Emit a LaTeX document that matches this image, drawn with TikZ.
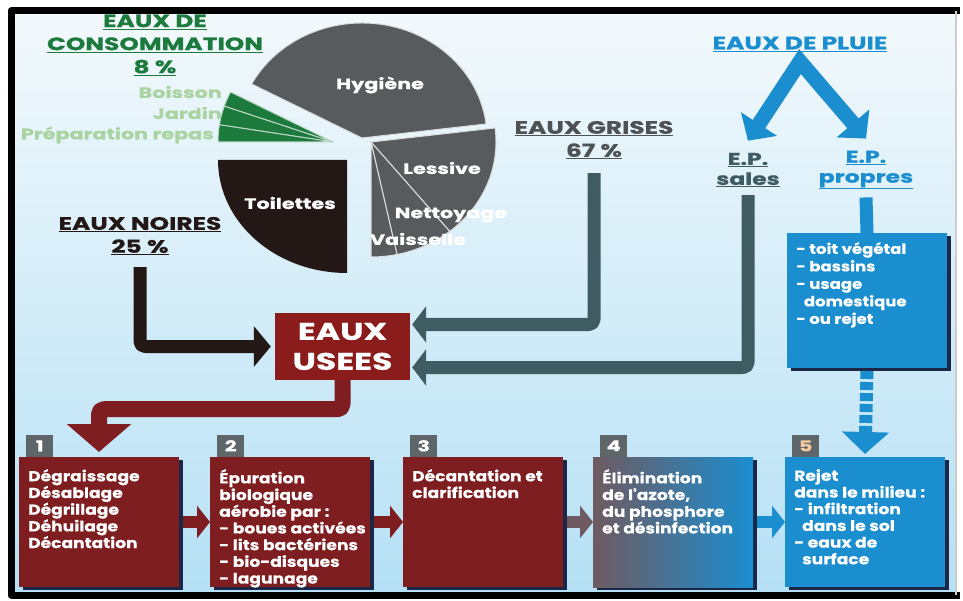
\documentclass[tikz,border=0pt]{standalone}
\usepackage{fontspec}
\setmainfont{Poppins}
\newfontfamily\grosfont{Poppins}[FakeStretch=1.38,FakeBold=0.6]
\newfontfamily\boitefont{Poppins}[FakeStretch=1.18,FakeBold=0.3]
\usetikzlibrary{arrows.meta, positioning, shadows}
\definecolor{rouge}{HTML}{7E1E20}
\definecolor{rougeU}{HTML}{8A1C1C}
\definecolor{bleu}{HTML}{1B8ED0}
\definecolor{gris}{HTML}{575B5D}
\definecolor{grisF}{HTML}{3F5C63}
\definecolor{noir}{HTML}{231815}
\definecolor{vert}{HTML}{1B7A3C}
\definecolor{vertC}{HTML}{A9D3A1}
\definecolor{ombre}{HTML}{1C2646}
\definecolor{fondH}{HTML}{F3F9FC}
\definecolor{fondB}{HTML}{B5E0F5}
\definecolor{numgris}{HTML}{5E6669}
\definecolor{mauve}{HTML}{6E5A60}
\definecolor{peche}{HTML}{F5C9A0}
\tikzset{titre/.style={font=\grosfont\bfseries\fontsize{18}{23}\selectfont,align=center,inner sep=0pt}}
\tikzset{part/.style={font=\grosfont\bfseries\fontsize{15}{18}\selectfont,text=white,inner sep=0pt}}
\tikzset{conso/.style={font=\grosfont\bfseries\fontsize{15}{18}\selectfont,text=vertC,inner sep=0pt,anchor=east}}
\tikzset{stage/.style={minimum width=160pt,minimum height=130pt,inner sep=0pt,outer sep=0pt,general shadow={fill=ombre,shadow xshift=4pt,shadow yshift=-3pt}}}
\tikzset{stage text/.style={anchor=north west,xshift=9pt,yshift=-12pt,align=left,text=white,inner sep=0pt,font=\boitefont\bfseries\fontsize{14.5}{16.7}\selectfont}}
\tikzset{num/.style={fill=numgris,text=white,minimum width=27pt,minimum height=22pt,inner sep=0pt,font=\grosfont\bfseries\fontsize{15}{15}\selectfont}}
\tikzset{tuyau/.style={line width=13pt,rounded corners=5pt}}

\begin{document}
\begin{tikzpicture}[x=1pt,y=-1pt,line join=round]
    \tikzstyle{etape} = [line width=12pt, -{Triangle[width=32pt,length=13pt]}]
    %\draw[help lines] (0,0) grid (963,601);
    \useasboundingbox (0,0) rectangle (963,601);
    \fill[white] (0,0) rectangle (963,601);
    \shade[top color=fondH, bottom color=fondB] (11,11) rectangle (956,595);

    % camembert
    \filldraw[fill=gris, draw=white!80!gris, line width=1pt] (362,138) -- ++(7:125pt and 115pt) arc[start angle=7, end angle=152, x radius=125pt, y radius=115pt] -- cycle;
    \filldraw[fill=gris, draw=white!80!gris, line width=1pt] (371,142) -- ++(7:125pt and 115pt) arc[start angle=7, end angle=-51, x radius=125pt, y radius=115pt] -- cycle;
    \filldraw[fill=gris, draw=white!80!gris, line width=1pt] (371,142) -- ++(-51:125pt and 115pt) arc[start angle=-51, end angle=-78, x radius=125pt, y radius=115pt] -- cycle;
    \filldraw[fill=gris, draw=white!80!gris, line width=1pt] (371,142) -- ++(-78:125pt and 115pt) arc[start angle=-78, end angle=-90, x radius=125pt, y radius=115pt] -- cycle;
    \fill[noir] (347,160) -- ++(180:129pt and 113pt) arc[start angle=180, end angle=270, x radius=129pt, y radius=113pt] -- cycle;
    \filldraw[fill=vert, draw=white!70!vert, line width=1pt] (333,142) -- ++(153:115pt and 110pt) arc[start angle=153, end angle=161, x radius=115pt, y radius=110pt] -- cycle;
    \filldraw[fill=vert, draw=white!70!vert, line width=1pt] (333,142) -- ++(161:115pt and 110pt) arc[start angle=161, end angle=171, x radius=115pt, y radius=110pt] -- cycle;
    \filldraw[fill=vert, draw=white!70!vert, line width=1pt] (333,142) -- ++(171:115pt and 110pt) arc[start angle=171, end angle=180, x radius=115pt, y radius=110pt] -- cycle;

    \node[part] at (380, 85) (HY){Hygiène};
    \node[part] at (442,168) (LE){Lessive};
    \node[part] at (290,203) (TO){Toilettes};
    \node[part] at (451,215) (NE){Nettoyage};
    \node[part] at (418,239) (VA){Vaisselle};

    \node[conso] at (222, 92) (BO){Boisson};
    \node[conso] at (222,113) (JA){Jardin};
    \node[conso] at (214,135) (PE){Préparation repas};

    % titres
    \node[titre, text=vert] at (155, 45) (CO){\underline{EAUX DE}\\\underline{CONSOMMATION}\\\underline{8 \%}};
    \node[titre, text=noir] at (140,236) (NO){\underline{EAUX NOIRES}\\\underline{25 \%}};
    \node[titre, text=gris!90!black] at (594,140) (GR){\underline{EAUX GRISES}\\\underline{67 \%}};
    \node[titre, text=bleu] at (800, 44) (PL){\underline{EAUX DE PLUIE}};
    \node[titre, text=grisF, font=\grosfont\bfseries\fontsize{17}{20}\selectfont] at (748,170) (SA){\underline{E.P.}\\\underline{sales}};
    \node[titre, text=bleu, font=\grosfont\bfseries\fontsize{17}{20}\selectfont] at (866,170) (PR){\underline{E.P.}\\\underline{propres}};

    \node[fill=rougeU, minimum width=135pt, minimum height=67pt, inner sep=0pt, text=white, align=center, font=\grosfont\bfseries\fontsize{24}{30}\selectfont] at (342.5,346.5) (EU){EAUX\\USEES};

    \node[stage, fill=bleu, minimum height=135pt, label={[stage text, yshift=3pt, font=\boitefont\bfseries\fontsize{14}{17.5}\selectfont]north west:{- toit végétal\\- bassins\\- usage\\\hspace*{0.55em}domestique\\- ou rejet}}] at (867,300.5) (PB){};

    % etapes
    \node[stage, fill=rouge, label={[stage text]north west:{Dégraissage\\Désablage\\Dégrillage\\Déhuilage\\Décantation}}] at (99,522) (B1){};
    \node[stage, fill=rouge, label={[stage text]north west:{Épuration\\biologique\\aérobie par :\\- boues activées\\- lits bactériens\\- bio-disques\\- lagunage}}] at (290,522) (B2){};
    \node[stage, fill=rouge, label={[stage text]north west:{Décantation et\\clarification}}] at (483,522) (B3){};
    \node[stage, left color=mauve, right color=bleu, label={[stage text]north west:{Élimination\\de l'azote,\\du phosphore\\et désinfection}}] at (673,522) (B4){};
    \node[stage, fill=bleu, label={[stage text]north west:{Rejet\\dans le milieu :\\- infiltration\\\hspace*{0.55em}dans le sol\\- eaux de\\\hspace*{0.55em}surface}}] at (865,522) (B5){};

    \node[num, above right=0pt and 7pt of B1.north west] (N1){1};
    \node[num, above right=0pt and 7pt of B2.north west] (N2){2};
    \node[num, above right=0pt and 7pt of B3.north west] (N3){3};
    \node[num, above right=0pt and 7pt of B4.north west] (N4){4};
    \node[num, text=peche, above right=0pt and 7pt of B5.north west] (N5){5};

    % fleches
    \draw[tuyau, noir, -{Triangle[width=40pt,length=17pt]}, shorten >=4pt] ([yshift=-12pt]NO.south) |- (EU.west);
    \draw[tuyau, grisF, -{Triangle[width=36pt,length=14pt]}, shorten >=2pt] ([yshift=-14pt]GR.south) |- ([yshift=22pt]EU.east);
    \draw[tuyau, grisF, -{Triangle[width=36pt,length=14pt]}, shorten >=2pt] ([yshift=-8pt]SA.south) |- ([yshift=-21pt]EU.east);
    \draw[tuyau, rouge, line width=16pt, -{Triangle[width=63pt,length=28pt]}] (EU.south) -- ++(0,29) -| ([yshift=5pt]B1.north);
    \draw[line width=15pt, bleu, line join=miter, {Triangle[width=42pt,length=20pt]}-{Triangle[width=42pt,length=20pt]}] ([yshift=12pt]SA.north) -- ([yshift=-10pt]PL.south) -- ([yshift=12pt]PR.north);
    \draw[line width=13pt, bleu] ([yshift=-8pt]PR.south) -- (PB.north);
    \draw[line width=13pt, bleu, dash pattern=on 8pt off 3pt, -{Triangle[width=46pt,length=22pt]}] ([yshift=-3pt]PB.south) -- ([yshift=3pt]B5.north);

    \draw[etape, rouge] ([xshift=4pt]B1.east) -- (B2.west);
    \draw[etape, rouge] ([xshift=4pt]B2.east) -- (B3.west);
    \draw[etape, mauve] ([xshift=4pt]B3.east) -- (B4.west);
    \draw[etape, bleu] ([xshift=4pt]B4.east) -- (B5.west);

    % cadre
    \draw[line width=7pt, line cap=rect] (956,11) -- (11,11) -- (11,595) -- (956,595);
    \draw[gray!40, line width=1.5pt] (956,11) -- (956,595);
\end{tikzpicture}
\end{document}
